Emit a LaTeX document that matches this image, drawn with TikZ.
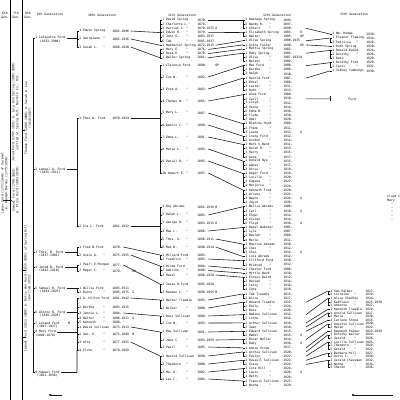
\documentclass[tikz,border=0pt]{standalone}
\usepackage{fontspec}
\setmonofont{DejaVu Sans Mono}
\usetikzlibrary{arrows.meta, positioning}
\begin{document}
\begin{tikzpicture}[x=0.25mm, y=-0.25mm, >=Latex,
  txt/.style={inner sep=0pt, anchor=west, text=black, font=\ttfamily\fontsize{2.2}{2.8}\selectfont},
  hd/.style={txt, anchor=center, align=center},
  side/.style={txt, anchor=center, align=center, rotate=90},
  ln/.style={line width=0.4pt, black!90},
  rule/.style={line width=0.7pt, black}]
\useasboundingbox (0,0) rectangle (400,400);
\fill[white] (0,0) rectangle (400,400);
\clip (0,0) rectangle (400,400);

% column rules and headings
\draw[rule] (10,0) -- (10,400);
\draw[rule] (22,0) -- (22,400);
\node[hd] (h6) at (5,15) {6th\\Gen.};
\node[hd] (h7) at (16,15) {7th\\Gen.};
\node[hd] (h8) at (28,15) {8th\\Gen.};
\node[hd] (h9) at (50,14) {9th Generation};
\node[hd] (h10) at (102,15) {10th Generation};
\node[hd] (h11) at (182,15) {11th Generation};
\node[hd] (h12) at (277,15) {12th Generation};
\node[hd] (h13) at (354,14) {13th Generation};

% older generations, written sideways
\node[side] (s6) at (4.5,183) {Lyman Ford (1771-1848) of Vermont\\m. Hannah Barnes (1775-1850)};
\node[side] (s7a) at (15.5,112) {Jared Ford (1797-1871) m. Lucy Ann Spring (1802-1880)\\settled at Spring Hill, Norfolk Co., Ont.};
\node[side] (s7b) at (15.5,190) {Samuel Ford (1799-1863)\\m. Eliza Hurd (1803-1870)};
\node[side] (s8a) at (28,118) {Thomas Ford (1808-1880) m. Sarah A. Lee\\(1810-1887)};
\node[side] (s8b) at (27.5,288) {Lemuel Ford (1811-1889) m. Betsy Ann Hurd (1815-1895) of Spring Hill\\(married 1831)};
\draw[ln] (22,130) -- (25,130);
\draw[ln] (3,200) -- (12,200);
\draw[ln] (22,270) -- (26,270);
\draw[ln] (22,337) -- (26,337);

% 9th generation
\foreach \y/\n/\d [count=\i] in {38/1 Lafayette Ford/(1832-1908), 169/2 Lemuel A. Ford/(1835-1911),
  252/3 Thos. B. Ford/(1837-1901), 267/4 Jared B. Ford/(1841-1910), 288/5 Samuel H. Ford/(1843-1925),
  312/6 Alonzo B. Ford/(1845-1928), 323/7 Leland Ford/(1847-1917), 332/8 Mary Ford/(1849-1876),
  372/9 Samuel Ford/(1852-1856)} {
  \node[txt] (p\i) at (35,\y) {\n};
  \node[txt, below=0.4pt of p\i] (pd\i) {\d};
  \draw[ln] (p\i.west) -- ++(-2,0);
}
\draw[ln] ([xshift=-0.5mm]p1.west) -- ([xshift=-0.5mm]p9.west);

% 10th generation
\coordinate (c10) at (77,0);
\foreach \y/\n/\d [count=\i] in {31/1 Edwin Spring/1862-1896, 39/2 Georgiana~~"/1865-1936, 47/3 Sarah L.~~~"/1868-1920,
  118/1 Thos A. Ford/1859-1924, 226/2 Ira L. Ford/1862-1932,
  247/1 Fred B.Ford/1870-, 255/2 Grace A.~~~"/1875-1955,
  265/1 Pearl E.Morgan/1877-, 271/2 Roger C.~~~"/1878-,
  288/1 Willie Ford/1883-1911, 292/2 Burns~~~~~~"/1885-1975,
  298/1 D. Hilton Ford/1881-1942, 307/2 Bertha~~~~~"/1883-1915, 313/3 Jennie L.~~"/1884-,
  318/4 Walter~~~~~"/1886-1911, 322/5 Kenneth~~~~"/1888-, 327/1 David Sullivan/1873-1913,
  334/2 Geo. E.~~~~"/1875-1899, 342/3 Alta~~~~~~~"/1877-1955, 350/4 Elihu~~~~~~"/1879-1958} {
  \node[txt] (q\i) at (79,\y) {\n};
  \node[txt] (qd\i) at (112,\y) {\d};
  \draw[ln] (q\i.west) -- ++(-2,0);
}
\foreach \a/\b in {1/3, 4/5, 6/7, 8/9, 10/11, 12/20}
  \draw[ln] ([xshift=-0.5mm]q\a.west) -- ([xshift=-0.5mm]q\b.west);
\draw[ln] ([xshift=-0.5mm]q20.west) -- (p9.east -| c10);
\foreach \i in {1,2,3,4,5,6,8,9}
  \draw[ln] ([xshift=1pt]p\i.east) -- (p\i.east -| c10);

% 11th generation
\coordinate (c11) at (160,0);
\foreach \y/\n/\d [count=\i] in {20/1 David Spring/1870-, 24.2/2 Charlotte L."/1874-, 28.4/3 Harriet L.~"/1878-1975,
  32.6/4 Edwin H.~~~"/1879-, 36.8/5 John G.~~~~"/1883-1937, 41/6 Ida~~~~~~~~"/1885-1937,
  45.2/1 Nathaniel Spring/1872-1915, 49.4/1 Mary E.~~~~"/1876-, 53.6/2 Rose E.~~~~"/1878-, 57.8/1 Walter Spring/1881-,
  65/1 Clarence Ford/1880-, 77/2 Ira W.~~~~~"/1882-, 89/3 Fred A.~~~~"/1883-, 101/4 Thomas W.~~"/1885-,
  113/5 Mary L.~~~~"/1887-, 125/6 Dennis C.~~"/1889-, 137/7 Emma L.~~~~"/1891-, 149/8 Maria L.~~~"/1893-,
  161/9 Daniel B.~~"/1895-, 173/10 Hubert E.~"/1897-,
  207/1 Roy Abrams/1882-1939, 215/2 Ralph L.~~~"/1885-, 223/3 George H.~~"/1883-1915,
  231/4 Mae L.~~~~~"/1886-, 239/5 Thos. G.~~~"/1888-1911, 247/6 Mat B.~~~~~"/1890-1914,
  255/1 Millard Ford/1883-, 259/2 Franklin~~~"/1885-,
  266/1 Hiram Ford/1884-, 270.5/2 Adeline~~~~"/1886-, 275/3 Hazel~~~~~~"/1888-1928,
  284/1 Jesse B.Ford/1895-1928, 292/2 Reuben L.~~"/1898-1955,
  300/1 Walter Treadle/1893-, 308/2 Wilbur~~~~~"/1900-,
  316/1 Ross Sullivan/1889-, 323/2 Ira W.~~~~~"/1893-,
  332/1 Ray Sullivan/1891-, 340/2 Jane C.~~~~"/1893-1959, 347/3 Pearl~~~~~~"/1895-,
  356/1 Harold Sullivan/1898-, 364/2 Theodore~~~"/1900-, 372/3 Ma. A.~~~~~"/1902-, 379/4 Leo C.~~~~~"/1904-} {
  \node[txt] (k\i) at (162,\y) {\n};
  \node[txt] (kd\i) at (197,\y) {\d};
  \draw[ln] (k\i.west) -- ++(-2,0);
}
\foreach \a/\b in {1/6, 8/10, 11/20, 21/26, 27/28, 29/31, 32/33, 34/35, 36/37, 38/40, 41/44}
  \draw[ln] ([xshift=-0.5mm]k\a.west) -- ([xshift=-0.5mm]k\b.west);
\foreach \a/\b in {1/4, 2/7, 3/10, 6/27, 7/29, 8/32, 12/34, 14/36, 17/38, 19/41}
  \draw[ln] ([xshift=1pt]qd\a.east) -- ([xshift=-0.5mm]k\b.west);
\foreach \a in {4,5}
  \draw[ln] ([xshift=1pt]qd\a.east) -- (qd\a.east -| c11);

% 12th generation
\foreach \n/\d [count=\i] in {1 Heenage Spring/1895-, 2 Wendy R.~~~"/1897-, 3 Albert~~~~~"/1899-,
  1 Elizabeth Spring/1903-, 2 Walter~~~~~"/1905-, 1 Olive Spring/1900-1935, 1 Grace Foster/1898-,
  1 Mattie Spring/1902-, 1 Ruby Spring/1905-, 2 Olive~~~~~~"/1907-1931, 3 Nelson~~~~~"/1909-,
  1 Max Ford/1906-, 2 Bertha~~~~~"/1908-, 3 Ralph~~~~~~"/1910-,
  1 Harold Ford/1907-, 2 Ethel~~~~~~"/1909-, 3 Lester~~~~~"/1911-, 4 Ruth~~~~~~~"/1913-,
  1 Alma Ford/1908-, 2 Cecil~~~~~~"/1910-, 3 Lloyd~~~~~~"/1912-, 4 Verna~~~~~~"/1914-,
  5 Edna M.~~~~"/1916-, 6 Clyde~~~~~~"/1918-, 7 Opal~~~~~~~"/1920-,
  1 Blanche Hurd/1909-, 2 Frank~~~~~~"/1911-, 3 Leona~~~~~~"/1913-,
  1 Irene Ford/1912-, 2 Gordon~~~~~"/1914-,
  1 Mark S.Ward/1911-, 2 Helen R.~~~"/1913-, 3 Harry~~~~~~"/1915-, 4 Vera~~~~~~~"/1917-,
  1 Donald Nye/1915-, 2 Agnes~~~~~~"/1917-, 3 Doris~~~~~~"/1919-,
  1 Roger Ford/1918-, 2 Lucille~~~~"/1920-, 3 Eugene~~~~~"/1922-, 4 Marjorie~~~"/1924-,
  1 Kenneth Ford/1920-, 2 Arlene~~~~~"/1922-, 3 Wayne~~~~~~"/1924-, 4 Joyce~~~~~~"/1926-,
  1 Nellie Abrams/1908-, 2 Carl~~~~~~~"/1910-, 3 Elmer~~~~~~"/1912-, 4 Vivian~~~~~"/1914-, 5 Floyd~~~~~~"/1916-,
  1 Hazel Webster/1905-, 2 Lyle~~~~~~~"/1907-, 3 Beulah~~~~~"/1909-, 4 Merle~~~~~~"/1911-,
  1 Maurice Abrams/1910-, 2 Inez~~~~~~~"/1912-, 3 Glen~~~~~~~"/1914-, 1 Lois Abrams/1912-,
  1 Clifford Ford/1910-, 2 Mildred~~~~"/1912-, 1 Chester Ford/1908-, 1 Myrtle Ward/1910-,
  1 Ernest Baird/1912-, 2 Marian~~~~~"/1914-, 3 Leroy~~~~~~"/1916-, 4 Ione~~~~~~~"/1918-,
  1 Ted Treadle/1915-, 2 Alice~~~~~~"/1917-, 1 Howard Treadle/1922-, 2 Emily~~~~~~"/1924-, 3 Dale~~~~~~~"/1926-,
  1 Nadine Sullivan/1912-, 2 Lorne~~~~~~"/1914-, 1 Arthur Sullivan/1916-, 2 Jean~~~~~~~"/1918-,
  1 Edward Sullivan/1913-, 2 Mabel~~~~~~"/1915-, 1 Oscar Weller/1914-, 2 Ruby~~~~~~~"/1916-,
  1 Annie Stone/1917-, 1 Archie Sullivan/1920-, 2 Evelyn~~~~~"/1922-,
  1 Russell Sullivan/1922-, 2 Grace~~~~~~"/1924-, 1 Cora Hill/1924-, 2 Lewis~~~~~~"/1926-, 3 Betty~~~~~~"/1928-,
  1 Francis Sullivan/1927-, 2 Norma~~~~~~"/1929-} {
  \node[txt] (m\i) at (245,{20+4.15*(\i-1)}) {\n};
  \node[txt] (md\i) at (283,{20+4.15*(\i-1)}) {\d};
  \draw[ln] (m\i.west) -- ++(-2,0);
}
\foreach \a/\b in {1/3, 4/5, 9/11, 12/14, 15/18, 19/25, 26/28, 29/30, 31/34, 35/37, 38/41, 42/45, 46/50,
  51/54, 55/57, 59/60, 63/66, 67/68, 69/71, 72/73, 74/75, 76/77, 78/79, 81/82, 83/84, 85/87, 88/89}
  \draw[ln] ([xshift=-0.5mm]m\a.west) -- ([xshift=-0.5mm]m\b.west);
\foreach \a/\b in {1/1, 4/4, 7/6, 8/7, 9/8, 10/9, 12/12, 13/15, 14/19, 15/26, 16/29, 17/31, 18/35, 19/38,
  20/42, 22/46, 24/51, 25/55, 26/58, 28/59, 29/61, 30/62, 31/63, 34/67, 35/69, 36/72, 37/74, 38/76,
  39/78, 40/80, 41/81, 42/83, 43/85, 44/88}
  \draw[ln] ([xshift=1pt]kd\a.east) -- ([xshift=-0.5mm]m\b.west);

% 13th generation
\coordinate (c12) at (306,0);
\foreach \n/\d [count=\i] in {1 Wm. Hodge/1910-, 1 Eleanor Fleming/1914-, 2 Patricia~~~"/1918-,
  1 Ruth Spring/1920-, 1 Ronald Ewald/1924-, 2 Dorothy~~~~"/1926-, 3 Kate~~~~~~~"/1928-,
  1 Dorothy Ford/1929-, 2 Carol~~~~~~"/1932-, 1 Sidney Cummings/1930-} {
  \node[txt] (n\i) at (332,{34+4.1*(\i-1)}) {\n};
  \node[txt] (nd\i) at (366,{34+4.1*(\i-1)}) {\d};
  \draw[ln] (n\i.west) -- ++(-2,0);
}
\foreach \a/\b in {2/3, 5/7, 8/9}
  \draw[ln] ([xshift=-0.5mm]n\a.west) -- ([xshift=-0.5mm]n\b.west);
\foreach \a/\b in {3/1, 6/2, 7/4, 9/5, 12/8, 15/10}
  \draw[ln] (md\a.east -| c12) -- ([xshift=-0.5mm]n\b.west);
\node[txt] (fd) at (348,98.85) {Ford};
\draw[ln] (md20.east -| c12) -- ([xshift=-4.5mm]fd.west);
\draw[ln] ([xshift=-4.5mm,yshift=0.6mm]fd.west) -- ([xshift=-4.5mm,yshift=-0.6mm]fd.west);

\foreach \n/\d [count=\i] in {1 Sam Palmer/1917-, 2 Lorraine~~~"/1919-, 1 Alice Shadley/1914-,
  2 Kathleen~~~"/1925-1930, 3 Annette~~~~"/1927-, 1 Kenneth Treadle/1924-, 1 Arnold Sullivan/1917-,
  2 Maria~~~~~~"/1920-, 1 Carlene Stone/1915-, 1 Annette Sullivan/1920-, 2 Helen~~~~~~"/1922-,
  1 Raymond Palmer/1923-1939, 1 Dorothy Weller/1924-, 2 Gerald~~~~~"/1926-, 1 Lucille Sullivan/1925-,
  2 Theodore~~~"/1924-, 3 Gerald~~~~~"/1922-, 1 Barbara Hill/1927-, 2 Doris L.~~~"/1930-,
  1 Gerald Chessman/1932-, 2 Norma~~~~~~"/1934-, 3 Sharon~~~~~"/1936-} {
  \node[txt] (o\i) at (330,{291+3.65*(\i-1)}) {\n};
  \node[txt] (od\i) at (365,{291+3.65*(\i-1)}) {\d};
  \draw[ln] (o\i.west) -- ++(-2,0);
}
\foreach \a/\b in {1/2, 3/5, 7/8, 10/11, 13/14, 15/17, 18/19, 20/22}
  \draw[ln] ([xshift=-0.5mm]o\a.west) -- ([xshift=-0.5mm]o\b.west);
\foreach \a/\b in {69/1, 72/3, 74/6, 75/7, 76/9, 78/10, 80/12, 81/13, 82/15, 83/18, 84/20}
  \draw[ln] (md\a.east -| c12) -- ([xshift=-0.5mm]o\b.west);

% marks beside the dates
\foreach \x/\y/\t [count=\j] in {68/323/M, 132/271/8P, 132/292/G, 132/318/G, 132/334/M,
  215/28.4/8, 215/65/8P, 215/207/M, 215/223/8, 215/292/M}
  \node[txt] (mka\j) at (\x,\y) {\t};
\foreach \r/\t [count=\j] in {4/8, 5/8P, 7/8P, 10/8, 28/G, 44/G, 47/G, 50/G, 57/G, 77/8, 79/8, 86/8}
  \node[txt] (mkb\j) at (300,{20+4.15*(\r-1)}) {\t};

% edge of the next sheet
\node[txt, anchor=north west, align=left] (rt) at (387,195) {Lloyd C.\\Mary\\~~"\\~~"\\~~"\\~~"\\~~"};
\coordinate (z1) at (353,395);
\coordinate (z2) at (393,395);
\fill[black] (z1) circle (1.2);
\draw[ln] (z1) -- (z2);
\coordinate (a1) at (48,395);
\coordinate (a2) at (62,395);
\draw[ln, -{Latex[length=0.8mm]}] (a2) -- (a1);
\end{tikzpicture}
\end{document}
